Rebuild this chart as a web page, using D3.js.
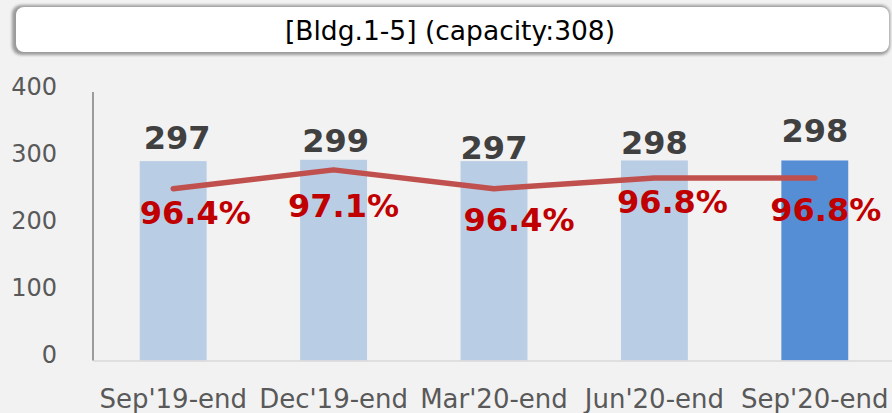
<!DOCTYPE html>
<html>
<head>
<meta charset="utf-8">
<script src="https://cdn.jsdelivr.net/npm/d3@7"></script>
<style>
  html, body { margin: 0; padding: 0; background: #f2f2f2; }
  svg { display: block; }
</style>
</head>
<body>
<svg id="chart" width="892" height="413"></svg>
<script>
/* data */
const title = "[Bldg.1-5] (capacity:308)";
const categories = ["Sep'19-end", "Dec'19-end", "Mar'20-end", "Jun'20-end", "Sep'20-end"];
const tenants = [297, 299, 297, 298, 298];
const occupancy = [96.4, 97.1, 96.4, 96.8, 96.8];
const yTicks = [0, 100, 200, 300, 400];

/* label nudges, px (hand placed in the original) */
const countNudge = [[4, -12], [2, -8], [0, -2], [0, -6], [0, -18]];
const rateNudge = [[22, 35], [10, 47], [25, 42], [18, 35], [11, 43]];

const width = 892;
const height = 413;
const margin = { top: 92, right: -3, bottom: 52, left: 93 };

const svg = d3.select("#chart");
const font = "'DejaVu Sans', Verdana, sans-serif";

/* title box */
const defs = svg.append("defs");
defs.append("filter").attr("id", "soft")
    .append("feGaussianBlur").attr("stdDeviation", 1.6);

svg.append("rect")
    .attr("x", 12).attr("y", 5)
    .attr("width", 878).attr("height", 50)
    .attr("rx", 9)
    .attr("fill", "#9a9a9a")
    .attr("filter", "url(#soft)");
svg.append("rect")
    .attr("x", 16).attr("y", 7)
    .attr("width", 873).attr("height", 45)
    .attr("rx", 8)
    .attr("fill", "#ffffff");

svg.append("text")
    .attr("x", 450).attr("y", 40)
    .attr("text-anchor", "middle")
    .style("font-family", font)
    .style("font-size", "26.5px")
    .attr("fill", "#000")
    .text(title);

/* scales */
const xScale = d3.scaleBand()
    .domain(categories)
    .range([margin.left, width - margin.right])
    .paddingInner(0.583)
    .paddingOuter(0.2915);

const yScale = d3.scaleLinear()
    .domain([0, 400])
    .range([height - margin.bottom - 0.5, margin.top]);

const rateScale = d3.scaleLinear()
    .domain([90, 100])
    .range([height - margin.bottom - 0.5, margin.top]);

/* y axis labels */
const yAxis = d3.axisLeft(yScale)
    .tickValues(yTicks)
    .tickSize(0)
    .tickPadding(36);

const gy = svg.append("g")
    .attr("transform", "translate(" + margin.left + ",0)")
    .call(yAxis);
gy.select(".domain").remove();
gy.selectAll("text")
    .attr("dy", "0.1em")
    .attr("fill", "#595959")
    .style("font-family", font)
    .style("font-size", "24px");

/* bars */
svg.append("g").selectAll("rect")
    .data(tenants)
    .enter()
    .append("rect")
    .attr("x", (d, i) => xScale(categories[i]))
    .attr("width", xScale.bandwidth())
    .attr("y", d => yScale(d))
    .attr("height", d => yScale(0) - yScale(d))
    .attr("fill", (d, i) => i === tenants.length - 1 ? "#558ed5" : "#b9cde5");

/* x axis */
const xAxis = d3.axisBottom(xScale).tickSize(0).tickPadding(29);
const gx = svg.append("g")
    .attr("transform", "translate(0," + yScale(0) + ")")
    .call(xAxis);
gx.select(".domain")
    .attr("stroke", "#d9d9d9")
    .attr("stroke-width", 1.5);
gx.selectAll("text")
    .attr("fill", "#595959")
    .style("font-family", font)
    .style("font-size", "26px");

/* y axis line */
svg.append("line")
    .attr("x1", margin.left).attr("x2", margin.left)
    .attr("y1", yScale(400)).attr("y2", yScale(0))
    .attr("stroke", "#7f7f7f")
    .attr("stroke-width", 1.5);

/* occupancy line */
const cx = i => xScale(categories[i]) + xScale.bandwidth() / 2;
const line = d3.line()
    .x((d, i) => cx(i))
    .y(d => rateScale(d));

svg.append("path")
    .datum(occupancy)
    .attr("d", line)
    .attr("fill", "none")
    .attr("stroke", "#c0504d")
    .attr("stroke-width", 5.5)
    .attr("stroke-linecap", "round")
    .attr("stroke-linejoin", "round");

/* count labels */
svg.append("g").selectAll("text")
    .data(tenants)
    .enter()
    .append("text")
    .attr("x", (d, i) => cx(i) + countNudge[i][0])
    .attr("y", (d, i) => yScale(d) + countNudge[i][1])
    .attr("text-anchor", "middle")
    .attr("fill", "#404040")
    .style("font-family", font)
    .style("font-weight", "bold")
    .style("font-size", "32px")
    .text(d => d);

/* rate labels */
svg.append("g").selectAll("text")
    .data(occupancy)
    .enter()
    .append("text")
    .attr("x", (d, i) => cx(i) + rateNudge[i][0])
    .attr("y", (d, i) => rateScale(d) + rateNudge[i][1])
    .attr("text-anchor", "middle")
    .attr("fill", "#c00000")
    .style("font-family", font)
    .style("font-weight", "bold")
    .style("font-size", "32px")
    .text(d => d.toFixed(1) + "%");
</script>
</body>
</html>
